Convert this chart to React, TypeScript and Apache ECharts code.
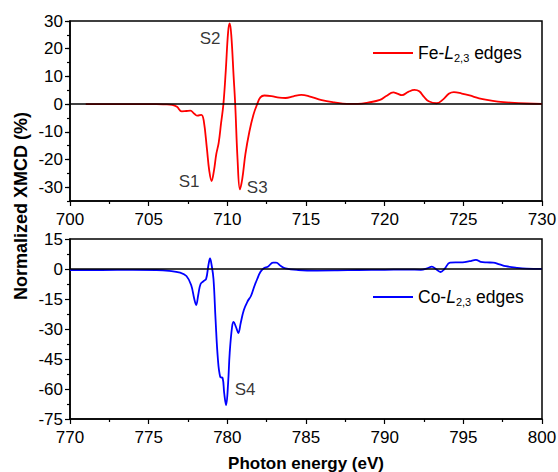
import React, { useEffect, useRef } from "react";
import * as echarts from "echarts";

const FONT = "'Liberation Sans', Arial, sans-serif";

// Fe L2,3 XMCD: photon energy (eV), normalized XMCD (%)
const feEnergy = [
  701.0, 703.0, 704.5, 705.5, 706.0, 706.5, 706.8, 707.1, 707.4, 707.65, 707.9, 708.1, 708.35, 708.5,
  708.7, 708.85, 709.0, 709.15, 709.3, 709.45, 709.6, 709.75, 709.9, 710.05, 710.15, 710.25, 710.4,
  710.5, 710.65, 710.8, 710.95, 711.15, 711.4, 711.65, 711.9, 712.1, 712.35, 712.8, 713.3, 713.7,
  714.2, 714.7, 715.2, 716.0, 716.8, 717.6, 718.3, 719.0, 719.7, 720.1, 720.55, 720.8, 721.1, 721.5,
  721.9, 722.2, 722.5, 722.8, 723.3, 723.7, 724.1, 724.4, 724.9, 725.4, 726.0, 726.5, 727.2, 728.0,
  729.0, 730.0,
];
const feXmcd = [
  0, 0, 0, 0, -0.1, -0.3, -1.0, -2.6, -2.5, -2.4, -3.5, -4.2, -3.9, -6,
  -16, -24, -27.8, -24, -18, -14, -7, 0, 12, 26, 29.1, 25, 10,
  0, -20, -30.8, -27, -18, -10, -4, 0, 2.4, 3.1, 2.9, 2.3, 2.2,
  2.8, 3.3, 2.8, 1.4, 0.6, 0.1, 0.1, 0.6, 1.5, 2.9, 4.2, 3.8, 3.2, 4.4,
  5.1, 4.6, 2.6, 1.0, 0.3, 1.6, 3.8, 4.3, 3.8, 3.1, 2.1, 1.5, 0.9, 0.5,
  0.2, 0.1,
];

// Co L2,3 XMCD
const coEnergy = [
  770, 772, 774, 775.5, 776.3, 777.0, 777.4, 777.7, 777.9, 778.02, 778.15, 778.3, 778.5, 778.65,
  778.8, 778.9, 779.0, 779.12, 779.25, 779.4, 779.55, 779.7, 779.8, 779.92, 780.05, 780.15, 780.3,
  780.4, 780.55, 780.7, 780.85, 781.05, 781.3, 781.5, 781.7, 781.9, 782.1, 782.3, 782.6, 782.9,
  783.1, 783.4, 783.7, 784.5, 785.7, 787, 788.3, 790, 791.5, 792.3, 792.7, 793.0, 793.25, 793.55,
  793.8, 794.15, 794.5, 794.95, 795.4, 795.8, 796.1, 796.5, 796.9, 797.3, 797.7, 798.4, 799.0, 800,
];
const coXmcd = [
  -0.5, -0.5, -0.4, -0.5, -0.9, -1.8, -3.5, -8, -15, -18, -13, -7.5, -6, -5,
  2, 5.3, 2, -5, -25, -45, -54, -54.5, -62, -68, -57, -42, -29,
  -26.5, -29, -32, -27, -20.5, -16, -13.5, -9, -5, -1.5, 0.2, 1.3, 3.2,
  3.2, 1.5, 0.3, -0.5, -0.8, -0.7, -0.5, -0.4, -0.3, -0.4, 0.3, 1.2, 0, -1.5,
  0, 3.2, 3.3, 3.3, 3.9, 4.6, 3.6, 3.3, 3.2, 2.3, 1.4, 0.6, 0.2, 0.1,
];

// Peak annotations [energy, value, label]
const feLabels: [number, number, string][] = [
  [707.57, -28, "S1"],
  [708.9, 23.8, "S2"],
  [711.9, -30.1, "S3"],
];
const coLabels: [number, number, string][] = [[781.13, -60, "S4"]];

const feMajorTicks = [-30, -20, -10, 0, 10, 20, 30];
const seriesNames = ["Fe-L2,3 edges", "Co-L2,3 edges"];

const zip = (xs: number[], ys: number[]) => xs.map((x, i) => [x, ys[i]]);

const tickLabel = { color: "#000", fontSize: 17, fontFamily: FONT };
const axisLineStyle = { lineStyle: { color: "#000", width: 1.5 } };

const legendText = (name: string) => {
  const el = name.split("-")[0];
  return `{n|${el}-}{i|L}{s|2,3}{n| edges}`;
};
const legendRich = {
  n: { fontSize: 17.5, fontFamily: FONT, color: "#000" },
  i: { fontSize: 17.5, fontFamily: FONT, fontStyle: "italic", color: "#000" },
  s: { fontSize: 11, fontFamily: FONT, color: "#000", padding: [10, 0, 0, 0] },
};

export default function App() {
  const ref = useRef<HTMLDivElement>(null);
  useEffect(() => {
    if (!ref.current) return;
    const chart = echarts.init(ref.current, null, { renderer: "svg" });
    const zeroLine = {
      silent: true,
      symbol: "none",
      label: { show: false },
      lineStyle: { color: "#000", width: 1.5, type: "solid" },
      data: [{ yAxis: 0 }],
    };
    const annotLabel = {
      show: true, position: "inside", color: "#000", fontSize: 17, fontFamily: FONT,
      formatter: (p: any) => p.data[2],
    };
    chart.setOption({
      animation: false,
      backgroundColor: "#fff",
      grid: [
        {
          left: 70, right: 16, top: 21, height: 180, show: true, borderColor: "#000", borderWidth: 1.5,
          containLabel: false, outerBoundsMode: "none",
        },
        {
          left: 70, right: 16, top: 239, height: 180, show: true, borderColor: "#000", borderWidth: 1.5,
          containLabel: false, outerBoundsMode: "none",
        },
      ],
      xAxis: [
        {
          type: "value", gridIndex: 0, min: 700, max: 730, interval: 5,
          axisLine: { show: true, onZero: false, ...axisLineStyle },
          axisTick: { show: true, length: 5, lineStyle: { color: "#000", width: 1.2 } },
          minorTick: { show: true, splitNumber: 2, length: 3, lineStyle: { color: "#000", width: 1.2 } },
          splitLine: { show: false },
          axisLabel: { ...tickLabel, margin: 10 },
        },
        {
          type: "value", gridIndex: 1, min: 770, max: 800, interval: 5,
          axisLine: { show: true, onZero: false, ...axisLineStyle },
          axisTick: { show: true, length: 5, lineStyle: { color: "#000", width: 1.2 } },
          minorTick: { show: true, splitNumber: 2, length: 3, lineStyle: { color: "#000", width: 1.2 } },
          splitLine: { show: false },
          axisLabel: { ...tickLabel, margin: 10 },
          name: "Photon energy (eV)",
          nameLocation: "middle",
          nameGap: 36,
          nameTextStyle: { color: "#000", fontSize: 17, fontWeight: "bold", fontFamily: FONT },
        },
      ],
      yAxis: [
        {
          type: "value", gridIndex: 0, min: -35, max: 30, interval: 5, position: "left",
          axisLine: { show: true, onZero: false, ...axisLineStyle },
          axisTick: { show: true, length: 3, lineStyle: { color: "#000", width: 1.2 } },
          splitLine: { show: false },
          axisLabel: {
            ...tickLabel, margin: 7,
            formatter: (v: number) => (Math.round(v) % 10 === 0 ? String(v) : ""),
          },
        },
        {
          type: "value", gridIndex: 0, min: -35, max: 30, position: "left", offset: 0,
          axisLine: { show: false },
          axisTick: { show: true, length: 5, customValues: feMajorTicks, lineStyle: { color: "#000", width: 1.2 } },
          axisLabel: { show: false },
          splitLine: { show: false },
        },
        {
          type: "value", gridIndex: 1, min: -75, max: 15, interval: 15, position: "left",
          axisLine: { show: true, onZero: false, ...axisLineStyle },
          axisTick: { show: true, length: 5, lineStyle: { color: "#000", width: 1.2 } },
          minorTick: { show: true, splitNumber: 2, length: 3, lineStyle: { color: "#000", width: 1.2 } },
          splitLine: { show: false },
          axisLabel: { ...tickLabel, margin: 7 },
        },
      ],
      legend: [
        {
          data: [seriesNames[0]], left: 373, top: 44, padding: 0, icon: "rect", itemWidth: 40, itemHeight: 2,
          formatter: legendText, textStyle: { rich: legendRich },
        },
        {
          data: [seriesNames[1]], left: 373, top: 288, padding: 0, icon: "rect", itemWidth: 40, itemHeight: 2,
          formatter: legendText, textStyle: { rich: legendRich },
        },
      ],
      graphic: [
        {
          type: "text", x: 21, y: 206, rotation: Math.PI / 2,
          style: {
            text: "Normalized XMCD (%)", fill: "#000", font: `bold 18px ${FONT}`,
            textAlign: "center", textVerticalAlign: "middle",
          },
        },
      ],
      series: [
        {
          name: seriesNames[0], type: "line", xAxisIndex: 0, yAxisIndex: 0,
          data: zip(feEnergy, feXmcd), smooth: 0.4, symbol: "none",
          lineStyle: { color: "#ff0000", width: 1.8 }, itemStyle: { color: "#ff0000" },
          markLine: zeroLine, z: 3,
        },
        {
          name: seriesNames[1], type: "line", xAxisIndex: 1, yAxisIndex: 2,
          data: zip(coEnergy, coXmcd), smooth: 0.4, symbol: "none",
          lineStyle: { color: "#0000ff", width: 1.8 }, itemStyle: { color: "#0000ff" },
          markLine: zeroLine, z: 3,
        },
        {
          name: "fe-annot", type: "scatter", xAxisIndex: 0, yAxisIndex: 0,
          data: feLabels, symbolSize: 0, silent: true, label: annotLabel,
        },
        {
          name: "co-annot", type: "scatter", xAxisIndex: 1, yAxisIndex: 2,
          data: coLabels, symbolSize: 0, silent: true, label: annotLabel,
        },
      ],
    });
    return () => chart.dispose();
  }, []);
  return (
    <div
      ref={ref}
      style={{ position: "fixed", left: 0, top: 0, width: 558, height: 472, background: "#fff" }}
    />
  );
}
